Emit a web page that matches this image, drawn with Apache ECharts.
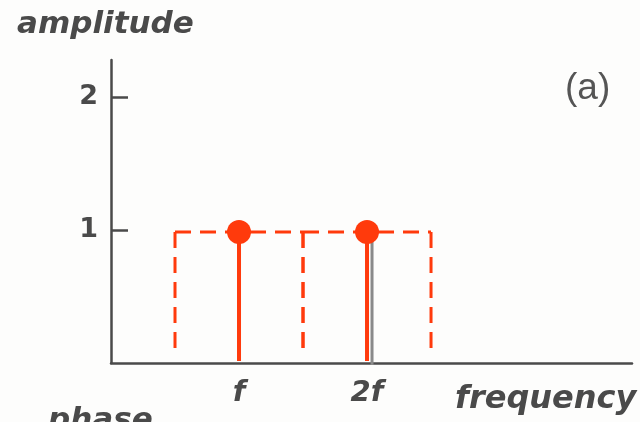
<!DOCTYPE html>
<html>
<head>
<meta charset="utf-8">
<script src="https://cdn.jsdelivr.net/npm/echarts@6/dist/echarts.min.js"></script>
<style>
  html, body { margin: 0; padding: 0; background: #fdfdfc; }
  #chart { width: 640px; height: 422px; }
</style>
</head>
<body>
<div id="chart"></div>
<script>
// Line spectrum: harmonic number (multiple of f) and amplitude of each line
const harmonics = [1, 2];
const harmonicLabels = ['f', '2f'];
const amplitudes = [1, 1];
// half-width of the dashed band drawn around each line, in units of f
const bandHalfWidth = [0.5, 0.5];
const yTickValues = [1, 2];

const RED = '#ff3a0c';
const INK = '#4a4a4a';
const labelFont = 'DejaVu Sans';

const chart = echarts.init(document.getElementById('chart'), null, { renderer: 'canvas' });

const stemData = harmonics.map((h, i) => [h, amplitudes[i]]);
const bandData = harmonics.map((h, i) => [h - bandHalfWidth[i], h + bandHalfWidth[i], amplitudes[i]]);

const dashStyle = { stroke: RED, lineWidth: 3, lineDash: [16, 9] };

chart.setOption({
  backgroundColor: '#fdfdfc',
  animation: false,
  grid: { left: 111, right: 8, top: 60, bottom: 59, containLabel: false },
  xAxis: {
    type: 'value',
    min: 0,
    max: 4.07,
    interval: 1,
    splitLine: { show: false },
    axisTick: { show: false },
    axisLine: { show: true, lineStyle: { color: INK, width: 2.5 } },
    axisLabel: {
      margin: 16,
      color: INK,
      fontFamily: labelFont,
      fontWeight: 'bold',
      fontStyle: 'italic',
      fontSize: 29,
      showMinLabel: false,
      showMaxLabel: false,
      formatter: v => {
        const i = harmonics.indexOf(v);
        return i >= 0 ? harmonicLabels[i] : '';
      }
    }
  },
  yAxis: {
    type: 'value',
    min: 0,
    max: 2.278,
    interval: 1,
    splitLine: { show: false },
    axisLine: { show: true, lineStyle: { color: INK, width: 2.5 } },
    axisTick: { show: true, inside: true, length: 17, lineStyle: { color: INK, width: 2.5 } },
    axisLabel: {
      margin: 13,
      color: INK,
      fontFamily: labelFont,
      fontWeight: 'bold',
      fontSize: 27,
      showMinLabel: false,
      showMaxLabel: false,
      formatter: v => (yTickValues.indexOf(v) >= 0 ? String(v) : '')
    }
  },
  series: [
    {
      // dashed bands: left side, top, right side, open at the bottom;
      // every edge starts its dash pattern at the top so shared edges coincide
      type: 'custom',
      data: bandData,
      z: 2,
      renderItem: (params, api) => {
        const pL = api.coord([api.value(0), api.value(2)]);
        const pR = api.coord([api.value(1), api.value(2)]);
        const base = api.coord([0, 0])[1] - 9;
        const top = pL[1] + 2;
        return {
          type: 'group',
          children: [
            { type: 'line', shape: { x1: pL[0], y1: top, x2: pL[0], y2: base }, style: dashStyle },
            { type: 'line', shape: { x1: pL[0], y1: top, x2: pR[0], y2: top }, style: dashStyle },
            { type: 'line', shape: { x1: pR[0], y1: top, x2: pR[0], y2: base }, style: dashStyle }
          ]
        };
      }
    },
    {
      // stems with round heads
      type: 'custom',
      data: stemData,
      z: 3,
      renderItem: (params, api) => {
        const top = api.coord([api.value(0), api.value(1)]);
        const base = api.coord([api.value(0), 0]);
        const children = [];
        if (params.dataIndex === 1) {
          children.push({
            type: 'line',
            shape: { x1: top[0] + 5, y1: top[1] + 10, x2: top[0] + 5, y2: base[1] + 2 },
            style: { stroke: '#8a8a8a', lineWidth: 3 }
          });
        }
        children.push({
          type: 'line',
          shape: { x1: top[0], y1: top[1], x2: base[0], y2: base[1] - 2 },
          style: { stroke: RED, lineWidth: 4 }
        });
        children.push({
          type: 'circle',
          shape: { cx: top[0], cy: top[1] + 2, r: 12 },
          style: { fill: RED }
        });
        return { type: 'group', children };
      }
    }
  ],
  graphic: [
    {
      type: 'text', left: 17, top: 9,
      style: { text: 'amplitude', fill: INK, font: 'italic bold 31px "DejaVu Sans"' }
    },
    {
      type: 'text', left: 455, top: 384,
      style: { text: 'frequency', fill: INK, font: 'italic bold 32px "DejaVu Sans"' }
    },
    {
      type: 'text', left: 565, top: 70,
      style: { text: '(a)', fill: '#555', font: '37px "Liberation Sans"' }
    },
    {
      type: 'text', left: 48, top: 405,
      style: { text: 'phase', fill: INK, font: 'italic bold 31px "DejaVu Sans"' }
    }
  ]
});
</script>
</body>
</html>
